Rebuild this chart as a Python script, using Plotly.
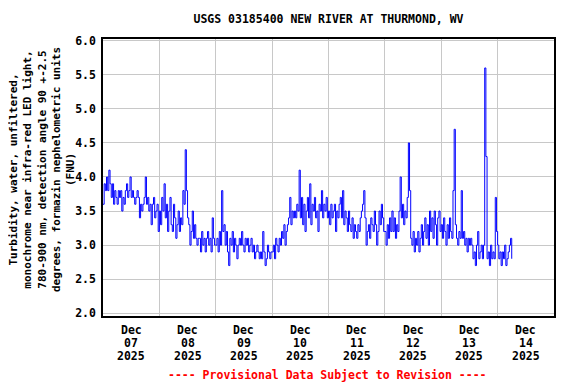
import pandas as pd
import plotly.graph_objects as go

title_text = "USGS 03185400 NEW RIVER AT THURMOND, WV"
y_title_lines = [
    "Turbidity, water, unfiltered,",
    "monochrome near infra-red LED light,",
    "780-900 nm, detection angle 90 +-2.5",
    "degrees, formazin nephelometric units",
    "(FNU)",
]
footer_text = "---- Provisional Data Subject to Revision ----"

day_starts = ["2025-12-07", "2025-12-08", "2025-12-09", "2025-12-10",
              "2025-12-11", "2025-12-12", "2025-12-13", "2025-12-14"]
tick_month = ["Dec"] * 8
tick_day = ["07", "08", "09", "10", "11", "12", "13", "14"]
tick_year = ["2025"] * 8
y_ticks = [2.0, 2.5, 3.0, 3.5, 4.0, 4.5, 5.0, 5.5, 6.0]

# turbidity (FNU), half-hourly readings per day
dec07 = [3.6, 3.9, 3.8, 4.0, 3.8, 4.1, 3.9, 3.7, 3.9, 3.6, 3.8,
         3.7, 3.6, 3.8, 3.7, 3.8, 3.5, 3.7, 3.6, 3.8, 3.9, 3.7, 3.8,
         4.0, 3.7, 3.8, 3.7, 3.6, 3.7, 3.8, 3.7, 3.4, 3.6, 3.5, 3.6,
         3.7, 4.0, 3.6, 3.7, 3.5, 3.6, 3.3, 3.6, 3.7, 3.4, 3.5, 3.6, 3.2]
dec08 = [3.5, 3.3, 3.7, 3.5, 3.9, 3.4, 3.6, 3.2, 3.5, 3.7, 3.3,
         3.2, 3.6, 3.4, 3.1, 3.3, 3.5, 3.2, 3.4, 3.3, 3.8, 3.6,
         4.4, 3.8, 3.4, 3.3, 3.0, 3.2, 3.5, 3.1, 3.3,
         3.1, 3.0, 3.1, 3.1, 2.9, 3.2, 3.0, 3.1, 2.9, 3.1, 3.2, 3.0,
         3.1, 2.9, 3.4, 3.1, 3.0]
dec09 = [3.0, 3.1, 2.9, 3.2, 3.0, 3.8, 3.2, 3.3, 3.0, 3.2, 2.9, 2.7,
         3.1, 3.0, 3.2, 2.9, 3.1, 3.0, 2.8, 3.0, 3.1,
         3.0, 3.2, 3.0, 2.9, 3.1, 3.0, 3.1, 2.9, 3.0, 3.1,
         2.9, 3.0, 2.8, 2.9, 3.0, 2.9, 2.8, 2.9, 2.8, 3.2,
         2.9, 2.7, 2.8, 3.0, 2.9, 2.8, 2.9]
dec10 = [2.9, 3.0, 2.8, 3.1, 3.0, 2.9, 3.1, 3.0, 3.2, 3.1, 3.3, 3.0, 3.2,
         3.3, 3.4, 3.7, 3.3, 3.5, 3.4, 3.5, 3.4, 3.6, 3.5, 4.1,
         3.4, 3.7, 3.3, 3.6, 3.2, 3.5, 3.7, 3.4, 3.9, 3.3, 3.6,
         3.5, 3.7, 3.4, 3.5, 3.2, 3.6, 3.5, 3.8, 3.4, 3.6, 3.5, 3.7, 3.4]
dec11 = [3.5, 3.3, 3.6, 3.4, 3.5, 3.6, 3.2, 3.5, 3.4, 3.6,
         3.7, 3.4, 3.8, 3.3, 3.5, 3.4, 3.2, 3.5, 3.3, 3.2, 3.4,
         3.1, 3.3, 3.2, 3.1, 3.3, 3.2, 3.4, 3.5, 3.6, 3.8, 3.4,
         3.0, 3.2, 3.3, 3.1, 3.4, 3.3, 3.2, 3.5, 3.3, 3.0, 3.2,
         3.5, 3.3, 3.6, 3.4, 3.2]
dec12 = [3.2, 3.0, 3.3, 3.1, 3.4, 3.2, 3.5, 3.2, 3.4, 3.1, 3.3, 3.2, 3.5,
         4.0, 3.4, 3.6, 3.3, 3.5, 3.4, 3.7, 4.5, 3.8,
         3.1, 3.0, 3.2, 2.9, 3.1, 3.0, 3.2, 2.9, 3.1,
         3.3, 3.0, 3.2, 3.4, 3.1, 3.3, 3.0, 3.5,
         3.2, 3.4, 3.1, 3.5, 3.3, 3.0, 3.4, 3.5, 3.2]
dec13 = [3.3, 3.1, 3.4, 3.2, 3.0, 3.3, 3.1, 3.4, 3.2, 3.1, 3.8, 4.7, 3.3,
         3.1, 3.0, 3.2, 3.1, 3.8, 3.1, 3.2, 3.0, 3.1, 2.9, 3.1, 3.0,
         3.1, 3.0, 2.8, 2.9, 2.7, 3.0, 3.2, 2.8, 2.9, 3.0, 2.8, 3.0,
         5.6, 4.3, 2.8, 2.9, 2.7, 3.0, 2.8, 2.9, 2.8, 3.7, 3.2]
dec14 = [3.0, 2.8, 2.9, 2.7, 2.9, 2.8, 3.0, 2.7, 2.8, 2.9, 3.0, 3.1, 2.8]

days = [dec07, dec08, dec09, dec10, dec11, dec12, dec13, dec14]
times, values = [], []
for start, vals in zip(day_starts, days):
    t0 = pd.Timestamp(start)
    for i, v in enumerate(vals):
        times.append(t0 + pd.Timedelta(minutes=30 * i))
        values.append(v)

FONT = "DejaVu Sans Mono"
# page body has an 8px margin; figure is sized so the plot lands where the reference has it
W, H, OFF = 568, 376, 8
fig = go.Figure()
fig.add_trace(go.Scatter(x=times, y=values, mode="lines",
                         line=dict(color="#0000ff", width=1, shape="hv"),
                         hoverinfo="skip", showlegend=False))

x0 = pd.Timestamp("2025-12-07")
x1 = pd.Timestamp("2025-12-15")
fig.update_xaxes(range=[x0, x1], tick0=x0, dtick=86400000,
                 showgrid=True, gridcolor="#c8c8c8", gridwidth=1,
                 showticklabels=False, ticks="",
                 showline=True, linecolor="black", linewidth=1.5, mirror=True,
                 zeroline=False)
fig.update_yaxes(range=[1.96, 6.025], tickvals=y_ticks,
                 ticktext=[f"{v:.1f}" for v in y_ticks],
                 showgrid=True, gridcolor="#c8c8c8", gridwidth=1,
                 ticks="outside", ticklen=3, tickcolor="rgba(0,0,0,0)",
                 tickfont=dict(family=FONT, size=11.5, color="black", weight="bold"),
                 showline=True, linecolor="black", linewidth=1.5, mirror=True,
                 zeroline=False)

annotations = []
for ds, m, d, yr in zip(day_starts, tick_month, tick_day, tick_year):
    xc = pd.Timestamp(ds) + pd.Timedelta(hours=12)
    for txt, yy in ((m, -0.0505), (d, -0.097), (yr, -0.143)):
        annotations.append(dict(x=xc, y=yy, xref="x", yref="paper", text=txt,
                                showarrow=False, xanchor="center", yanchor="middle",
                                font=dict(family=FONT, size=11.5, color="black", weight="bold")))
annotations.append(dict(x=(42 - 103) / 451, y=0.527, xref="paper", yref="paper",
                        text="<br>".join(y_title_lines), textangle=-90,
                        showarrow=False, xanchor="center", yanchor="middle",
                        font=dict(family=FONT, size=11, color="black", weight="bold")))
annotations.append(dict(x=0.497, y=-0.213, xref="paper", yref="paper",
                        text=footer_text, showarrow=False,
                        xanchor="center", yanchor="middle",
                        font=dict(family=FONT, size=11.5, color="#ff0000", weight="bold")))

fig.update_layout(
    width=W, height=H,
    margin=dict(l=103 - OFF, r=22, t=39 - OFF, b=68),
    paper_bgcolor="white", plot_bgcolor="white",
    title=dict(text=title_text, x=0.5, xref="paper", xanchor="center",
               y=1 - (19 - OFF) / H, yanchor="middle",
               font=dict(family=FONT, size=11.5, color="black", weight="bold")),
    annotations=annotations,
    showlegend=False,
)
fig.write_html("out.html")
